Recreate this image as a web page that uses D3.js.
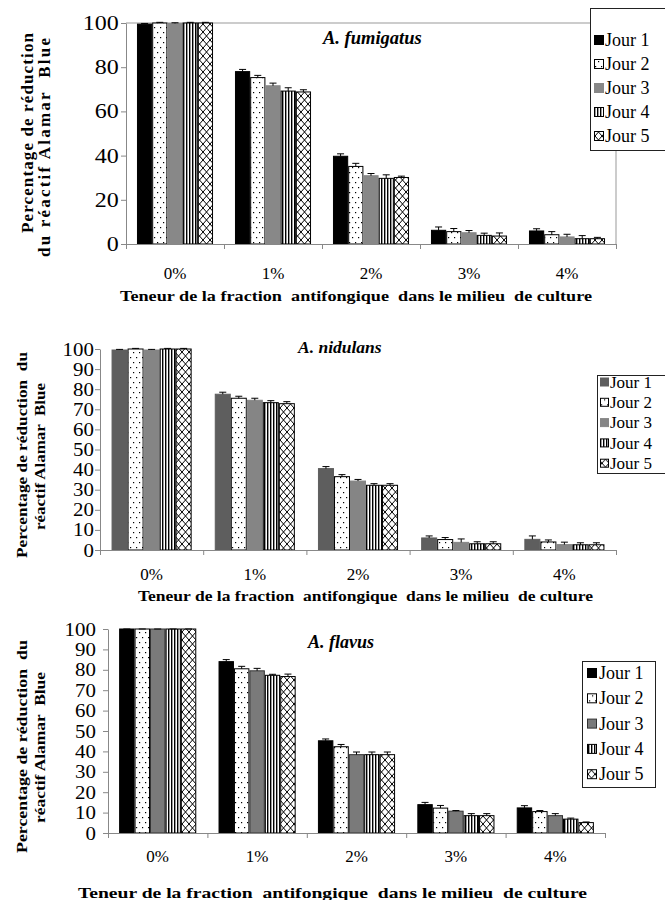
<!DOCTYPE html>
<html lang="fr">
<head>
<meta charset="utf-8">
<title>Alamar Blue</title>
<script src="https://cdn.jsdelivr.net/npm/d3@7"></script>
<style>
  body { margin: 0; background: #fff; }
  svg text { font-family: 'Liberation Serif', 'Times New Roman', serif; }
</style>
</head>
<body>
<svg id="chart" width="665" height="900"></svg>
<script>

var categories = ["0%", "1%", "2%", "3%", "4%"];
var days = ["Jour 1", "Jour 2", "Jour 3", "Jour 4", "Jour 5"];
var xTitle = "Teneur de la fraction  antifongique  dans le milieu  de culture";

// rows = days, columns = categories
var fumigatusMeans = [
  [99.5, 78.0, 39.7, 6.2, 5.9],
  [100, 75.3, 35.1, 5.6, 4.2],
  [99.8, 71.6, 30.9, 5.1, 3.2],
  [100, 69.2, 29.7, 3.9, 2.4],
  [100, 68.8, 30.1, 3.6, 2.4]
];
var fumigatusErrors = [
  [0.3, 1.0, 1.1, 1.5, 1.0],
  [0.3, 1.0, 1.4, 1.4, 1.4],
  [0.3, 1.2, 1.0, 1.0, 1.2],
  [0.3, 1.5, 1.6, 1.0, 1.4],
  [0.3, 1.0, 0.6, 1.4, 0.6]
];
var nidulansMeans = [
  [99.5, 77.5, 40.5, 6.0, 5.3],
  [100, 75.5, 36.5, 5.2, 4.0],
  [99.5, 74.5, 34.3, 3.8, 2.7],
  [100, 73.3, 32.2, 3.1, 2.6],
  [100, 72.8, 32.2, 3.1, 2.6]
];
var nidulansErrors = [
  [0.3, 1.0, 1.0, 1.0, 1.7],
  [0.3, 1.0, 1.0, 1.0, 1.0],
  [0.3, 1.0, 0.8, 1.7, 1.2],
  [0.3, 1.0, 0.8, 1.0, 1.0],
  [0.3, 1.0, 0.8, 1.0, 1.0]
];
var flavusMeans = [
  [100, 84.0, 45.2, 13.9, 12.3],
  [100, 80.5, 42.3, 12.2, 10.5],
  [100, 79.5, 38.4, 10.7, 8.5],
  [100, 77.3, 38.4, 8.5, 6.8],
  [100, 76.7, 38.4, 8.5, 5.1]
];
var flavusErrors = [
  [0, 1.0, 0.9, 1.1, 1.1],
  [0, 1.2, 1.1, 1.3, 0.5],
  [0, 1.2, 1.3, 0.3, 1.0],
  [0, 0.5, 1.3, 1.0, 0.5],
  [0, 1.2, 1.3, 1.0, 0.3]
];

var svg = d3.select("#chart");
var defs = svg.append("defs");

// fill patterns
var dots = defs.append("pattern").attr("id", "dots").attr("patternUnits", "userSpaceOnUse")
    .attr("width", 6).attr("height", 10);
dots.append("rect").attr("width", 6).attr("height", 10).attr("fill", "#fff");
dots.append("rect").attr("x", 1).attr("y", 2).attr("width", 1.2).attr("height", 1.2).attr("fill", "#000");
dots.append("rect").attr("x", 4).attr("y", 7).attr("width", 1.2).attr("height", 1.2).attr("fill", "#000");

var stripes = defs.append("pattern").attr("id", "stripes").attr("patternUnits", "userSpaceOnUse")
    .attr("width", 3).attr("height", 4);
stripes.append("rect").attr("width", 3).attr("height", 4).attr("fill", "#fff");
stripes.append("rect").attr("x", 0).attr("width", 1.4).attr("height", 4).attr("fill", "#000");

var cross = defs.append("pattern").attr("id", "cross").attr("patternUnits", "userSpaceOnUse")
    .attr("width", 7).attr("height", 8);
cross.append("rect").attr("width", 7).attr("height", 8).attr("fill", "#fff");
cross.append("path").attr("d", "M0,0L7,8M7,0L0,8").attr("stroke", "#000").attr("stroke-width", 1);

var panels = [
  {
    name: "A. fumigatus", means: fumigatusMeans, errors: fumigatusErrors,
    left: 126, right: 616, top: 23, bottom: 244, yStep: 20, border: true,
    fills: ["#000", "url(#dots)", "#888", "url(#stripes)", "url(#cross)"],
    strokes: ["#000", "#000", "#888", "#000", "#000"],
    yTickFont: 20, yTickSx: 1.2, yTickPad: 1,
    catFont: 17, catY: 279, titleXY: [323, 44], titleFont: 18.5,
    xTitleY: 301, xTitleX: [120, 592], xTitleFont: 15,
    yLines: ["Percentage de réduction", "du réactif Alamar  Blue"], yAdjust: "spacing",
    yLineX: [33, 50], yLineSpan: [[33, 233], [38, 257]], yTitleFont: 17,
    legend: { x: 590, y: 8, w: 80, h: 142, first: 40, step: 24, sw: 9, sx: 594, tx: 605, font: 18 }
  },
  {
    name: "A. nidulans", means: nidulansMeans, errors: nidulansErrors,
    left: 100, right: 616, top: 349, bottom: 550, yStep: 10, border: false,
    fills: ["#5e5e5e", "url(#dots)", "#858585", "url(#stripes)", "url(#cross)"],
    strokes: ["#5e5e5e", "#000", "#858585", "#000", "#000"],
    yTickFont: 19, yTickSx: 1.1, yTickPad: 0.5,
    catFont: 17, catY: 580, titleXY: [298, 353], titleFont: 17.5,
    xTitleY: 601, xTitleX: [138, 593], xTitleFont: 14,
    yLines: ["Percentage de réduction  du", "réactif Alamar  Blue"], yAdjust: "spacingAndGlyphs",
    yLineX: [27, 45], yLineSpan: [[352, 558], [383, 530]], yTitleFont: 14,
    legend: { x: 597, y: 375, w: 72, h: 98, first: 382, step: 20.3, sw: 8, sx: 600, tx: 610, font: 17 }
  },
  {
    name: "A. flavus", means: flavusMeans, errors: flavusErrors,
    left: 108, right: 605, top: 629, bottom: 833, yStep: 10, border: false,
    fills: ["#000", "url(#dots)", "#7a7a7a", "url(#stripes)", "url(#cross)"],
    strokes: ["#000", "#000", "#333", "#000", "#000"],
    yTickFont: 19, yTickSx: 1.1, yTickPad: 6,
    catFont: 17, catY: 862, titleXY: [308, 648], titleFont: 18,
    xTitleY: 898, xTitleX: [78, 587], xTitleFont: 14,
    yLines: ["Percentage de réduction  du", "réactif Alamar  Blue"], yAdjust: "spacingAndGlyphs",
    yLineX: [27, 45], yLineSpan: [[640, 853], [672, 823]], yTitleFont: 14,
    legend: { x: 582, y: 661, w: 73, h: 126, first: 673, step: 25.3, sw: 9, sx: 587, tx: 599, font: 18 }
  }
];

panels.forEach(function(p) {
  var g = svg.append("g");

  var x = d3.scaleBand().domain(categories).range([p.left, p.right])
      .paddingInner(0.224).paddingOuter(0.112);
  var xDay = d3.scaleBand().domain(d3.range(days.length)).range([0, x.bandwidth()]);
  var y = d3.scaleLinear().domain([0, 100]).range([p.bottom, p.top]);
  var xEdge = d3.scaleLinear().domain([0, categories.length]).range([p.left, p.right]);

  if (p.border) {
    g.append("path")
        .attr("d", "M" + p.left + "," + p.top + "H" + p.right + "V" + p.bottom)
        .attr("fill", "none").attr("stroke", "#999");
  }

  // bars
  p.means.forEach(function(row, di) {
    var series = g.append("g");
    series.selectAll("rect")
      .data(row)
      .enter().append("rect")
        .attr("x", function(d, ci) { return x(categories[ci]) + xDay(di) + 0.5; })
        .attr("y", function(d) { return y(d); })
        .attr("width", xDay.bandwidth() - 1)
        .attr("height", function(d) { return y(0) - y(d); })
        .attr("fill", p.fills[di])
        .attr("stroke", p.strokes[di])
        .attr("stroke-width", 1);

    // error bars (upper only)
    series.selectAll("path.err")
      .data(row)
      .enter().append("path")
        .attr("class", "err")
        .attr("d", function(d, ci) {
          var cx = x(categories[ci]) + xDay(di) + xDay.bandwidth() / 2;
          var top = y(d + p.errors[di][ci]);
          return "M" + cx + "," + y(d) + "V" + top + "M" + (cx - 3.5) + "," + top + "H" + (cx + 3.5);
        })
        .attr("stroke", "#000").attr("fill", "none");
  });

  // y axis
  var yAxis = g.append("g").attr("transform", "translate(" + p.left + ",0)")
      .call(d3.axisLeft(y).tickValues(d3.range(0, 101, p.yStep)).tickSize(5).tickSizeOuter(0).tickPadding(p.yTickPad));
  yAxis.attr("font-family", null);
  yAxis.select(".domain").attr("stroke", "#888");
  yAxis.selectAll(".tick line").attr("stroke", "#888");
  yAxis.selectAll("text").attr("fill", "#000").style("font-size", p.yTickFont + "px")
      .attr("transform", "scale(" + p.yTickSx + ",1)");

  // x axis: category edges
  var xAxis = g.append("g").attr("transform", "translate(0," + p.bottom + ")")
      .call(d3.axisBottom(xEdge).tickValues(d3.range(categories.length + 1)).tickSize(5).tickFormat(""));
  xAxis.select(".domain").attr("stroke", "#888").attr("d", "M" + p.left + ",0.5H" + p.right);
  xAxis.selectAll(".tick line").attr("stroke", "#888");

  g.selectAll("text.cat")
    .data(categories)
    .enter().append("text")
      .attr("class", "cat")
      .attr("text-anchor", "middle")
      .attr("x", function(d) { return x(d) + x.bandwidth() / 2; })
      .attr("y", p.catY)
      .style("font-size", p.catFont + "px")
      .text(function(d) { return d; });

  // x title
  g.append("text")
      .attr("x", p.xTitleX[0]).attr("y", p.xTitleY)
      .attr("textLength", p.xTitleX[1] - p.xTitleX[0])
      .attr("lengthAdjust", "spacingAndGlyphs")
      .style("font-size", p.xTitleFont + "px").style("font-weight", "bold")
      .style("white-space", "pre")
      .text(xTitle);

  // y title
  p.yLines.forEach(function(line, i) {
    var span = p.yLineSpan[i];
    g.append("text")
        .attr("transform", "translate(" + p.yLineX[i] + "," + span[1] + ") rotate(-90)")
        .attr("textLength", span[1] - span[0])
        .attr("lengthAdjust", p.yAdjust)
        .style("font-size", p.yTitleFont + "px").style("font-weight", "bold")
        .style("white-space", "pre")
        .text(line);
  });

  // panel title
  g.append("text")
      .attr("x", p.titleXY[0]).attr("y", p.titleXY[1])
      .style("font-size", p.titleFont + "px").style("font-weight", "bold").style("font-style", "italic")
      .text(p.name);

  // legend
  var L = p.legend;
  var lg = g.append("g");
  lg.append("rect").attr("x", L.x + 0.5).attr("y", L.y + 0.5).attr("width", L.w).attr("height", L.h)
      .attr("fill", "#fff").attr("stroke", "#222");
  var item = lg.selectAll("g.item")
    .data(days)
    .enter().append("g")
      .attr("class", "item")
      .attr("transform", function(d, i) { return "translate(0," + (L.first + i * L.step) + ")"; });
  item.append("rect")
      .attr("x", L.sx + 0.5).attr("y", -L.sw / 2)
      .attr("width", L.sw).attr("height", L.sw)
      .attr("fill", function(d, i) { return p.fills[i]; })
      .attr("stroke", function(d, i) { return p.strokes[i]; });
  item.append("text")
      .attr("x", L.tx)
      .attr("dy", "0.34em")
      .style("font-size", L.font + "px")
      .text(function(d) { return d; });
});

</script>
</body>
</html>
